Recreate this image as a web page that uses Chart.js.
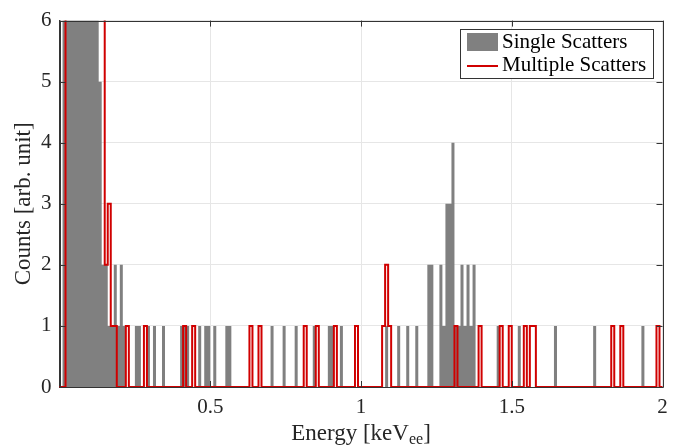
<!DOCTYPE html>
<html>
<head>
<meta charset="utf-8">
<script src="https://cdn.jsdelivr.net/npm/chart.js@4/dist/chart.umd.min.js"></script>
<style>
  html, body { margin: 0; padding: 0; background: #ffffff; }
  #wrap { width: 679px; height: 447px; position: relative; }
</style>
</head>
<body>
<div id="wrap"><canvas id="c" width="679" height="447"></canvas></div>
<script>
// ---------------- DATA ----------------
const BIN_WIDTH = 0.01;   // keV
const X_MIN = 0;
const X_MAX = 2;
const Y_MIN = 0;
const Y_MAX = 6;
const xTickLabels = ["0.5", "1", "1.5", "2"];
const yTickLabels = ["0", "1", "2", "3", "4", "5", "6"];
const seriesNames = ["Single Scatters", "Multiple Scatters"];

// counts per 0.01 keV bin, starting at 0.00 keV (bins above 6 are off-scale)
const singleCounts = [
  0, 12, 26, 31, 28, 22, 17, 13, 11, 9,   // 0.00
  8, 7, 7, 5, 2, 2, 1, 1, 2, 1,           // 0.10
  2, 1, 0, 0, 0, 1, 1, 0, 0, 1,           // 0.20
  0, 1, 0, 0, 1, 0, 0, 0, 0, 0,           // 0.30
  1, 1, 1, 0, 0, 0, 1, 0, 1, 1,           // 0.40
  0, 1, 0, 0, 0, 1, 1, 0, 0, 0,           // 0.50
  0, 0, 0, 0, 0, 0, 0, 0, 0, 0,           // 0.60
  1, 0, 0, 0, 1, 0, 0, 0, 1, 0,           // 0.70
  0, 0, 0, 0, 1, 0, 0, 0, 0, 1,           // 0.80
  1, 0, 0, 1, 0, 0, 0, 0, 0, 0,           // 0.90
  0, 0, 0, 0, 0, 0, 0, 0, 1, 0,           // 1.00
  0, 0, 1, 0, 0, 1, 0, 0, 1, 0,           // 1.10
  0, 0, 2, 2, 0, 0, 2, 1, 3, 3,           // 1.20
  4, 1, 1, 2, 1, 2, 1, 2, 0, 0,           // 1.30
  0, 0, 0, 0, 0, 1, 0, 0, 0, 0,           // 1.40
  0, 0, 1, 0, 0, 0, 0, 0, 0, 0,           // 1.50
  0, 0, 0, 0, 1, 0, 0, 0, 0, 0,           // 1.60
  0, 0, 0, 0, 0, 0, 0, 1, 0, 0,           // 1.70
  0, 0, 0, 0, 0, 0, 0, 0, 0, 0,           // 1.80
  0, 0, 0, 1, 0, 0, 0, 0, 0, 0            // 1.90
];

const multipleCounts = [
  0, 0, 9, 14, 16, 15, 13, 11, 10, 9,     // 0.00
  8, 8, 7, 7, 7, 2, 3, 1, 1, 0,           // 0.10
  0, 0, 1, 0, 0, 0, 0, 0, 1, 0,           // 0.20
  0, 0, 0, 0, 0, 0, 0, 0, 0, 0,           // 0.30
  0, 1, 0, 0, 1, 0, 0, 0, 0, 0,           // 0.40
  0, 0, 0, 0, 0, 0, 0, 0, 0, 0,           // 0.50
  0, 0, 0, 1, 0, 0, 1, 0, 0, 0,           // 0.60
  0, 0, 0, 0, 0, 0, 0, 0, 0, 0,           // 0.70
  0, 1, 0, 0, 0, 1, 0, 0, 0, 0,           // 0.80
  0, 1, 0, 0, 0, 0, 0, 0, 1, 0,           // 0.90
  0, 0, 0, 0, 0, 0, 0, 1, 2, 1,           // 1.00
  0, 0, 0, 0, 0, 0, 0, 0, 0, 0,           // 1.10
  0, 0, 0, 0, 0, 0, 0, 0, 0, 0,           // 1.20
  0, 1, 0, 0, 0, 0, 0, 0, 0, 1,           // 1.30
  0, 0, 0, 0, 0, 0, 1, 0, 0, 1,           // 1.40
  0, 0, 0, 0, 1, 0, 1, 1, 0, 0,           // 1.50
  0, 0, 0, 0, 0, 0, 0, 0, 0, 0,           // 1.60
  0, 0, 0, 0, 0, 0, 0, 0, 0, 0,           // 1.70
  0, 0, 0, 1, 0, 0, 1, 0, 0, 0,           // 1.80
  0, 0, 0, 0, 0, 0, 0, 0, 1, 0            // 1.90
];

// ---------------- STYLE ----------------
const GRAY = 'rgb(128,128,128)';
const RED = 'rgb(208,0,0)';
const AXIS = '#333333';
const GRID = '#e6e6e6';
const SERIF = '"Liberation Serif", "Times New Roman", serif';

// histogram -> step points at left bin edges (+ closing right edge)
function toSteps(counts) {
  const pts = counts.map((c, i) => ({ x: +(i * BIN_WIDTH).toFixed(2), y: c }));
  pts.push({ x: X_MAX, y: counts[counts.length - 1] });
  return pts;
}

const decor = {
  id: 'decor',
  afterDatasetsDraw(chart) {
    const { ctx, chartArea: a, scales } = chart;
    const xs = scales.x, ys = scales.y;
    ctx.save();
    ctx.strokeStyle = AXIS;
    ctx.lineWidth = 1;
    ctx.beginPath();
    ctx.rect(Math.round(a.left) + 0.5, Math.round(a.top) + 0.5,
             Math.round(a.right) - Math.round(a.left), Math.round(a.bottom) - Math.round(a.top));
    ctx.stroke();
    const TL = 6;
    ctx.beginPath();
    xs.ticks.forEach(t => {
      const px = Math.round(xs.getPixelForValue(t.value)) + 0.5;
      ctx.moveTo(px, a.bottom); ctx.lineTo(px, a.bottom - TL);
      ctx.moveTo(px, a.top); ctx.lineTo(px, a.top + TL);
    });
    ys.ticks.forEach(t => {
      const py = Math.round(ys.getPixelForValue(t.value)) + 0.5;
      ctx.moveTo(a.left, py); ctx.lineTo(a.left + TL, py);
      ctx.moveTo(a.right, py); ctx.lineTo(a.right - TL, py);
    });
    ctx.stroke();
    ctx.restore();
  },
  afterDraw(chart) {
    const { ctx, chartArea: a } = chart;
    ctx.save();
    ctx.fillStyle = '#262626';
    const big = '23px ' + SERIF, small = '16px ' + SERIF;
    ctx.font = big;
    const p1 = 'Energy [keV', p3 = ']';
    const w1 = ctx.measureText(p1).width, w3 = ctx.measureText(p3).width;
    ctx.font = small;
    const w2 = ctx.measureText('ee').width;
    const cx = (a.left + a.right) / 2;
    let x0 = cx - (w1 + w2 + w3) / 2;
    const base = 440;
    ctx.textBaseline = 'alphabetic';
    ctx.textAlign = 'left';
    ctx.font = big; ctx.fillText(p1, x0, base);
    ctx.font = small; ctx.fillText('ee', x0 + w1, base + 4);
    ctx.font = big; ctx.fillText(p3, x0 + w1 + w2, base);
    ctx.save();
    ctx.translate(30, (a.top + a.bottom) / 2);
    ctx.rotate(-Math.PI / 2);
    ctx.textAlign = 'center';
    ctx.font = big;
    ctx.fillText('Counts [arb. unit]', 0, 0);
    ctx.restore();
    const lx = 460.5, ly = 29.5, lw = 193, lh = 49;
    ctx.fillStyle = '#ffffff';
    ctx.fillRect(lx, ly, lw, lh);
    ctx.strokeStyle = AXIS;
    ctx.lineWidth = 1;
    ctx.strokeRect(lx, ly, lw, lh);
    ctx.fillStyle = GRAY;
    ctx.fillRect(467, 33, 31, 18);
    ctx.strokeStyle = RED;
    ctx.lineWidth = 2;
    ctx.beginPath(); ctx.moveTo(467, 66); ctx.lineTo(498, 66); ctx.stroke();
    ctx.fillStyle = '#000000';
    ctx.font = '21px ' + SERIF;
    ctx.textAlign = 'left';
    ctx.fillText(seriesNames[0], 502, 47.5);
    ctx.fillText(seriesNames[1], 502, 70.5);
    ctx.restore();
  }
};

new Chart(document.getElementById('c'), {
  type: 'line',
  data: {
    datasets: [
      {
        label: seriesNames[1],
        data: toSteps(multipleCounts),
        stepped: 'before',
        borderColor: RED,
        borderWidth: 2,
        fill: false,
        pointRadius: 0,
        order: 0,
        clip: { left: 1, top: 0, right: 2, bottom: 2 }
      },
      {
        label: seriesNames[0],
        data: toSteps(singleCounts),
        stepped: 'before',
        borderColor: 'rgba(0,0,0,0)',
        borderWidth: 0,
        backgroundColor: GRAY,
        fill: 'origin',
        pointRadius: 0,
        order: 1
      }
    ]
  },
  options: {
    responsive: false,
    animation: false,
    devicePixelRatio: 1,
    layout: { padding: { left: 0, top: 17.5, right: 16.5, bottom: 0 } },
    plugins: { legend: { display: false }, tooltip: { enabled: false } },
    scales: {
      x: {
        type: 'linear',
        min: X_MIN, max: X_MAX,
        afterBuildTicks(s) { s.ticks = [0, 0.5, 1, 1.5, 2].map(v => ({ value: v })); },
        ticks: {
          callback: (v) => { const i = [0.5, 1, 1.5, 2].indexOf(v); return i < 0 ? '' : xTickLabels[i]; },
          font: { family: SERIF, size: 21 },
          color: '#262626',
          padding: 8,
          maxRotation: 0,
          autoSkip: false
        },
        grid: { color: GRID, drawTicks: false, lineWidth: 1 },
        border: { display: true, color: AXIS },
        afterFit(s) { s.height = 60; }
      },
      y: {
        type: 'linear',
        min: Y_MIN, max: Y_MAX,
        ticks: {
          stepSize: 1,
          callback: (v) => yTickLabels[v] ?? '',
          font: { family: SERIF, size: 21 },
          color: '#262626',
          padding: 8
        },
        grid: { color: GRID, drawTicks: false, lineWidth: 1 },
        border: { display: true, color: AXIS },
        afterFit(s) { s.width = 59.5; }
      }
    }
  },
  plugins: [decor]
});
</script>
</body>
</html>
